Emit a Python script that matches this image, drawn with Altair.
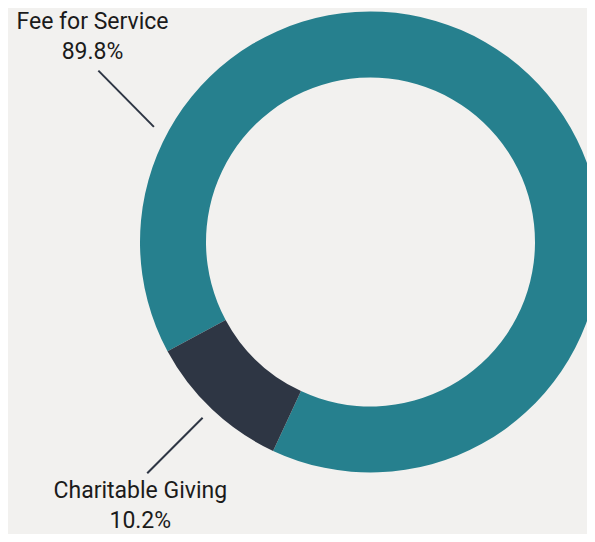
import math
import altair as alt
import pandas as pd

# ---- data ----
categories = ["Fee for Service", "Charitable Giving"]
shares = [89.8, 10.2]
share_labels = ["89.8%", "10.2%"]
colors = ["#26808e", "#2e3644"]

# ---- layout (view pixels) ----
W, H = 579, 526
CX, CY = 362.5, 234.0
R_OUT, R_IN = 230.5, 164.5
START_DEG = 205.0
# leader lines: (angle1, radius1, angle2, radius2) in degrees / px, relative to donut centre
leader_geom = {
    "Fee for Service": (298.0, 245.3, 302.2, 321.6),
    "Charitable Giving": (223.7, 243.0, 224.0, 321.4),
}
# label anchor (first baseline): (angle, radius)
label_geom = {
    "Fee for Service": (307.46, 350.2),
    "Charitable Giving": (221.96, 344.3),
}

arc_df = pd.DataFrame({
    "category": categories,
    "share": shares,
    "order": [1, 0],
})

leader_df = pd.DataFrame({
    "category": categories,
    "a1": [leader_geom[c][0] for c in categories],
    "r1": [leader_geom[c][1] for c in categories],
    "a2": [leader_geom[c][2] for c in categories],
    "r2": [leader_geom[c][3] for c in categories],
})

label_df = pd.DataFrame({
    "category": categories,
    "lines": [[c, p] for c, p in zip(categories, share_labels)],
    "a": [label_geom[c][0] for c in categories],
    "r": [label_geom[c][1] for c in categories],
})

start = math.radians(START_DEG)

arcs = alt.Chart(arc_df).mark_arc(radius=R_OUT, radius2=R_IN, stroke=None).encode(
    theta=alt.Theta("share:Q", stack=True,
                    scale=alt.Scale(range=[start, start + 2 * math.pi])),
    color=alt.Color("category:N", scale=alt.Scale(domain=categories, range=colors), legend=None),
    order=alt.Order("order:Q"),
    x=alt.value(CX),
    y=alt.value(CY),
)

xs = alt.Scale(domain=[0, W], range=[0, W])
ys = alt.Scale(domain=[0, H], range=[0, H])

leaders = alt.Chart(leader_df).transform_calculate(
    x1=f"{CX} + datum.r1 * sin(datum.a1 * PI / 180)",
    y1=f"{CY} - datum.r1 * cos(datum.a1 * PI / 180)",
    x2=f"{CX} + datum.r2 * sin(datum.a2 * PI / 180)",
    y2=f"{CY} - datum.r2 * cos(datum.a2 * PI / 180)",
).mark_rule(color="#2e3644", strokeWidth=2).encode(
    x=alt.X("x1:Q", scale=xs, axis=None),
    y=alt.Y("y1:Q", scale=ys, axis=None),
    x2="x2:Q",
    y2="y2:Q",
)

labels = alt.Chart(label_df).transform_calculate(
    lx=f"{CX} + datum.r * sin(datum.a * PI / 180)",
    ly=f"{CY} - datum.r * cos(datum.a * PI / 180)",
).mark_text(font="Roboto", fontSize=23, align="center", baseline="alphabetic",
            lineHeight=30, color="#1b1b1b").encode(
    x=alt.X("lx:Q", scale=xs, axis=None),
    y=alt.Y("ly:Q", scale=ys, axis=None),
    text="lines",
)

chart = alt.layer(arcs, leaders, labels).properties(
    width=W, height=H, padding=0, autosize=alt.AutoSizeParams(type="none"),
    background="#f2f1ef",
).configure_view(stroke=None)

chart.save("out.html", embed_options={"renderer": "svg", "actions": False})
